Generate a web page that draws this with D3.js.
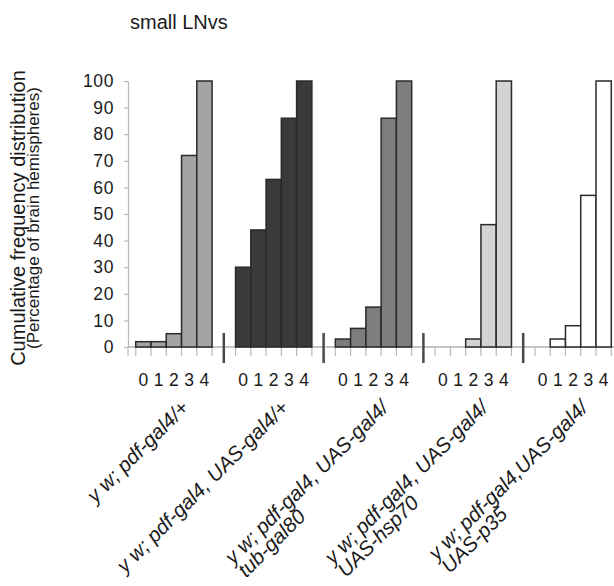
<!DOCTYPE html>
<html>
<head>
<meta charset="utf-8">
<script src="https://cdn.jsdelivr.net/npm/d3@7"></script>
<style>
  body { margin: 0; background: #fff; }
  svg text { font-family: "Liberation Sans", Arial, Helvetica, sans-serif; fill: #1a1a1a; }
</style>
</head>
<body>
<svg id="chart" width="614" height="586"></svg>
<script>
// Genotypes (one panel group each); "\n" splits the rotated label into lines
const genotypes = [
  "y w; pdf-gal4/+",
  "y w; pdf-gal4, UAS-gal4/+",
  "y w; pdf-gal4, UAS-gal4/\ntub-gal80",
  "y w; pdf-gal4, UAS-gal4/\nUAS-hsp70",
  "y w; pdf-gal4,UAS-gal4/\nUAS-p35"
];
// Score classes on the x axis within each group
const scoreClasses = ["0", "1", "2", "3", "4"];
// Cumulative frequency (% of brain hemispheres) per score class
const cumPdfGal4 = [2, 2, 5, 72, 100];
const cumGal4 = [30, 44, 63, 86, 100];
const cumGal80 = [3, 7, 15, 86, 100];
const cumHsp70 = [0, 0, 3, 46, 100];
const cumP35 = [0, 3, 8, 57, 100];
const seriesValues = [cumPdfGal4, cumGal4, cumGal80, cumHsp70, cumP35];
const yTickValues = [0, 10, 20, 30, 40, 50, 60, 70, 80, 90, 100];
const groupFills = ["#a4a4a4", "#3a3a3a", "#7e7e7e", "#d3d3d3", "#ffffff"];

const svg = d3.select("#chart");

const x = d3.scaleBand()
  .domain(d3.range(genotypes.length))
  .range([124, 623])
  .paddingInner(0.235)
  .paddingOuter(0.1175);
const xi = d3.scaleBand()
  .domain(scoreClasses)
  .range([0, x.bandwidth()])
  .padding(0);
const y = d3.scaleLinear().domain([0, 100]).range([347, 81]);
const y0 = y(0);

// Title
svg.append("text")
  .attr("x", 130).attr("y", 29)
  .attr("font-size", 20)
  .text("small LNvs");

// Y axis title (two lines)
svg.append("text")
  .attr("transform", `translate(25,218) rotate(-90)`)
  .attr("text-anchor", "middle")
  .attr("font-size", 20)
  .text("Cumulative frequency distribution");
svg.append("text")
  .attr("transform", `translate(38.5,218) rotate(-90)`)
  .attr("text-anchor", "middle")
  .attr("font-size", 17)
  .text("(Percentage of brain hemispheres)");

// Y axis
const yAxis = svg.append("g")
  .attr("transform", "translate(128,0)")
  .call(d3.axisLeft(y).tickValues(yTickValues).tickSize(4).tickSizeOuter(0).tickPadding(10));
yAxis.select(".domain").attr("stroke", "#b8b8b8").attr("stroke-width", 1.2);
yAxis.selectAll(".tick line").attr("stroke", "#b8b8b8").attr("stroke-width", 1.2);
yAxis.selectAll(".tick text")
  .attr("font-size", 17.5)
  .attr("letter-spacing", 0.6)
  .attr("font-family", "Liberation Sans, Arial, sans-serif")
  .attr("fill", "#1a1a1a");

// Baseline
svg.append("line")
  .attr("x1", 128).attr("x2", 614)
  .attr("y1", y0).attr("y2", y0)
  .attr("stroke", "#b0b0b0").attr("stroke-width", 1.5);

// Small ticks under the baseline at every bar boundary
const tickXs = [128];
genotypes.forEach((g, gi) => {
  for (let k = 0; k <= scoreClasses.length; k++) tickXs.push(x(gi) + k * xi.step());
});
svg.append("g").selectAll("line").data(tickXs).join("line")
  .attr("x1", d => d).attr("x2", d => d)
  .attr("y1", y0).attr("y2", y0 + 9)
  .attr("stroke", "#b8b8b8").attr("stroke-width", 1.2);

// Bars
const groups = svg.append("g").selectAll("g").data(seriesValues).join("g")
  .attr("transform", (d, i) => `translate(${x(i)},0)`);
groups.selectAll("rect")
  .data((vals, gi) => vals.map((v, k) => ({ v, k, gi })).filter(d => d.v > 0))
  .join("rect")
  .attr("x", d => xi(scoreClasses[d.k]))
  .attr("width", xi.bandwidth())
  .attr("y", d => y(d.v))
  .attr("height", d => y0 - y(d.v))
  .attr("fill", d => groupFills[d.gi])
  .attr("stroke", "#2a2a2a")
  .attr("stroke-width", 1.5);

// Score class labels
groups.selectAll("text.cls").data(scoreClasses).join("text")
  .attr("class", "cls")
  .attr("x", d => xi(d) + xi.bandwidth() / 2)
  .attr("y", 386)
  .attr("text-anchor", "middle")
  .attr("font-size", 17.5)
  .text(d => d);

// Group separators
const sepXs = d3.range(1, genotypes.length).map(i => x(i) - x.step() * x.paddingInner() / 2);
svg.append("g").selectAll("line").data(sepXs).join("line")
  .attr("x1", d => d).attr("x2", d => d)
  .attr("y1", y0 - 14).attr("y2", y0 + 16)
  .attr("stroke", "#4a4a4a").attr("stroke-width", 2.5);

// Rotated genotype labels: first line ends under its group, later lines start-aligned with it
genotypes.forEach((g, gi) => {
  const lines = g.split("\n");
  const ax = x(gi) + x.bandwidth() / 2 + 16;
  const t = svg.append("text")
    .attr("transform", `translate(${ax},409) rotate(-45)`)
    .attr("font-size", 20.5)
    .attr("font-style", "italic");
  const first = t.append("tspan").attr("x", 0).attr("y", 0).text(lines[0]);
  const len = first.node().getComputedTextLength();
  first.attr("x", -len);
  lines.slice(1).forEach(line => {
    t.append("tspan").attr("x", -len).attr("dy", "0.9em").text(line);
  });
});
</script>
</body>
</html>
